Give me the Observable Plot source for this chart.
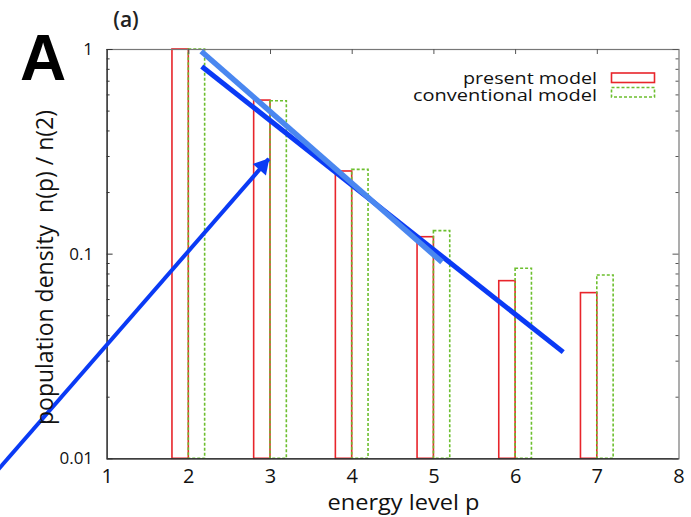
<!DOCTYPE html>
<html><head><meta charset="utf-8">
<script src="https://cdn.jsdelivr.net/npm/d3@7"></script>
<script src="https://cdn.jsdelivr.net/npm/@observablehq/plot@0.6"></script>
<style>body{margin:0;background:#fff}</style>
</head><body><div id="chart"></div>
<script>
// ---- data ----
const levels = [2, 3, 4, 5, 6, 7];
const presentModel = [1.0, 0.563, 0.2535, 0.121, 0.0738, 0.0645];
const conventionalModel = [1.0, 0.559, 0.258, 0.1295, 0.0849, 0.0787];
const xTickValues = [1, 2, 3, 4, 5, 6, 7, 8];
const xTickLabels = ["1", "2", "3", "4", "5", "6", "7", "8"];
const yTickValues = [0.01, 0.1, 1];
const yTickLabels = ["0.01", "0.1", "1"];
const yMinorTicks = [0.02,0.03,0.04,0.05,0.06,0.07,0.08,0.09,0.2,0.3,0.4,0.5,0.6,0.7,0.8,0.9];
const fitDarkP = [2.159, 6.583];
const fitDarkN = [0.826, 0.0332];
const fitLightP = [2.152, 5.099];
const fitLightN = [0.981, 0.0914];
const arrowP = [-0.35, 2.979];
const arrowN = [0.0087, 0.292];
const seriesNames = ["present model", "conventional model"];

// ---- build ----
const W = 691, H = 517;
const mL = 106.6, mR = 12.5, mT = 49, mB = H - 458.3;
const fw = W - mL - mR, fh = H - mT - mB;
const barW = 0.2;
const present = levels.map((p, i) => ({p, v: presentModel[i]}));
const conventional = levels.map((p, i) => ({p, v: conventionalModel[i]}));
const dark = fitDarkP.map((p, i) => ({p, n: fitDarkN[i]}));
const light = fitLightP.map((p, i) => ({p, n: fitLightN[i]}));
const arrow = [{x1: arrowP[0], y1: arrowN[0], x2: arrowP[1], y2: arrowN[1]}];
const RED = "#e8252b", GREEN = "#6cbf2e", DARKBLUE = "#0a3af5", LIGHTBLUE = "#4a87f0";

const chart = Plot.plot({
  width: W, height: H,
  marginLeft: mL, marginRight: mR, marginTop: mT, marginBottom: mB,
  style: {fontFamily: "Open Sans", background: "white", color: "#111"},
  x: {domain: [1, 8]},
  y: {type: "log", domain: [0.01, 1]},
  marks: [
    Plot.rect(present, {x1: d => d.p - barW, x2: d => d.p, y1: 0.01, y2: d => d.v,
      fill: "none", stroke: RED, strokeWidth: 1.6}),
    Plot.rect(conventional, {x1: d => d.p, x2: d => d.p + barW, y1: 0.01, y2: d => d.v,
      fill: "none", stroke: GREEN, strokeWidth: 1.6, strokeDasharray: "3,2"}),
    // frame
    Plot.frame({stroke: "#777", strokeWidth: 1.2}),
    Plot.ruleX([1], {stroke: "#222", strokeWidth: 1.2}),
    Plot.ruleY([0.01], {stroke: "#222", strokeWidth: 1.2}),
    // inward ticks
    Plot.tickY(yTickValues, {y: d => d, insetRight: fw - 6, stroke: "#333"}),
    Plot.tickY(yMinorTicks, {y: d => d, insetRight: fw - 3, stroke: "#333"}),
    Plot.tickY(yTickValues, {y: d => d, insetLeft: fw - 6, stroke: "#555"}),
    Plot.tickY(yMinorTicks, {y: d => d, insetLeft: fw - 3, stroke: "#555"}),
    Plot.tickX(xTickValues.slice(1, -1), {x: d => d, insetBottom: fh - 5, stroke: "#555"}),
    // axes labels
    Plot.axisX({anchor: "bottom", ticks: xTickValues, tickSize: 0, tickPadding: 10,
      fontSize: 20, label: null, tickFormat: d => xTickLabels[xTickValues.indexOf(d)]}),
    Plot.axisY({anchor: "left", ticks: yTickValues, tickSize: 0, tickPadding: 14,
      fontSize: 17, label: null, tickFormat: d => yTickLabels[yTickValues.indexOf(d)]}),
    // fit lines
    Plot.line(dark, {x: "p", y: "n", stroke: DARKBLUE, strokeWidth: 5, strokeLinecap: "butt"}),
    Plot.line(light, {x: "p", y: "n", stroke: LIGHTBLUE, strokeWidth: 5.5, strokeLinecap: "butt"}),
    // arrow
    Plot.link(arrow, {x1: "x1", y1: "y1", x2: "x2", y2: "y2", stroke: DARKBLUE, strokeWidth: 4}),
    Plot.dot(arrow, {x: "x2", y: "y2", symbol: "triangle", r: 6.5, rotate: 41,
      dx: -6.1, dy: 7.0, fill: DARKBLUE, stroke: "none"})
  ]
});

const svg = d3.select(chart);
// panel letters
svg.append("text").attr("x", 43).attr("y", 80).attr("text-anchor", "middle")
  .attr("font-family", "Liberation Sans, Arial, sans-serif").attr("font-weight", "bold")
  .attr("font-size", 64).attr("fill", "#000").text("A");
svg.append("text").attr("x", 126).attr("y", 27).attr("text-anchor", "middle")
  .attr("font-family", "Open Sans").attr("font-weight", 600)
  .attr("font-size", 21).attr("fill", "#222").text("(a)");
// axis titles
svg.append("text").attr("transform", "translate(53,267.5) rotate(-90)")
  .attr("text-anchor", "middle").attr("font-family", "Open Sans")
  .attr("font-size", 23).attr("fill", "#111").attr("xml:space", "preserve")
  .style("white-space", "pre").text("population density  n(p) / n(2)");
svg.append("text").attr("x", 403.5).attr("y", 510).attr("text-anchor", "middle")
  .attr("font-family", "Open Sans").attr("font-size", 22).attr("fill", "#111")
  .attr("textLength", 152).attr("lengthAdjust", "spacingAndGlyphs")
  .text("energy level p");
// legend
const leg = svg.append("g");
leg.append("text").attr("x", 597).attr("y", 83.5).attr("text-anchor", "end")
  .attr("font-family", "Open Sans").attr("font-size", 16).attr("fill", "#111")
  .attr("textLength", 134).attr("lengthAdjust", "spacingAndGlyphs").text(seriesNames[0]);
leg.append("rect").attr("x", 611.5).attr("y", 73).attr("width", 43).attr("height", 9.5)
  .attr("fill", "none").attr("stroke", RED).attr("stroke-width", 1.6);
leg.append("text").attr("x", 597).attr("y", 101).attr("text-anchor", "end")
  .attr("font-family", "Open Sans").attr("font-size", 16).attr("fill", "#111")
  .attr("textLength", 184).attr("lengthAdjust", "spacingAndGlyphs").text(seriesNames[1]);
leg.append("rect").attr("x", 611.5).attr("y", 87.5).attr("width", 43).attr("height", 9.5)
  .attr("fill", "none").attr("stroke", GREEN).attr("stroke-width", 1.6).attr("stroke-dasharray", "3,2");

document.getElementById("chart").appendChild(chart);
</script>
</body></html>
